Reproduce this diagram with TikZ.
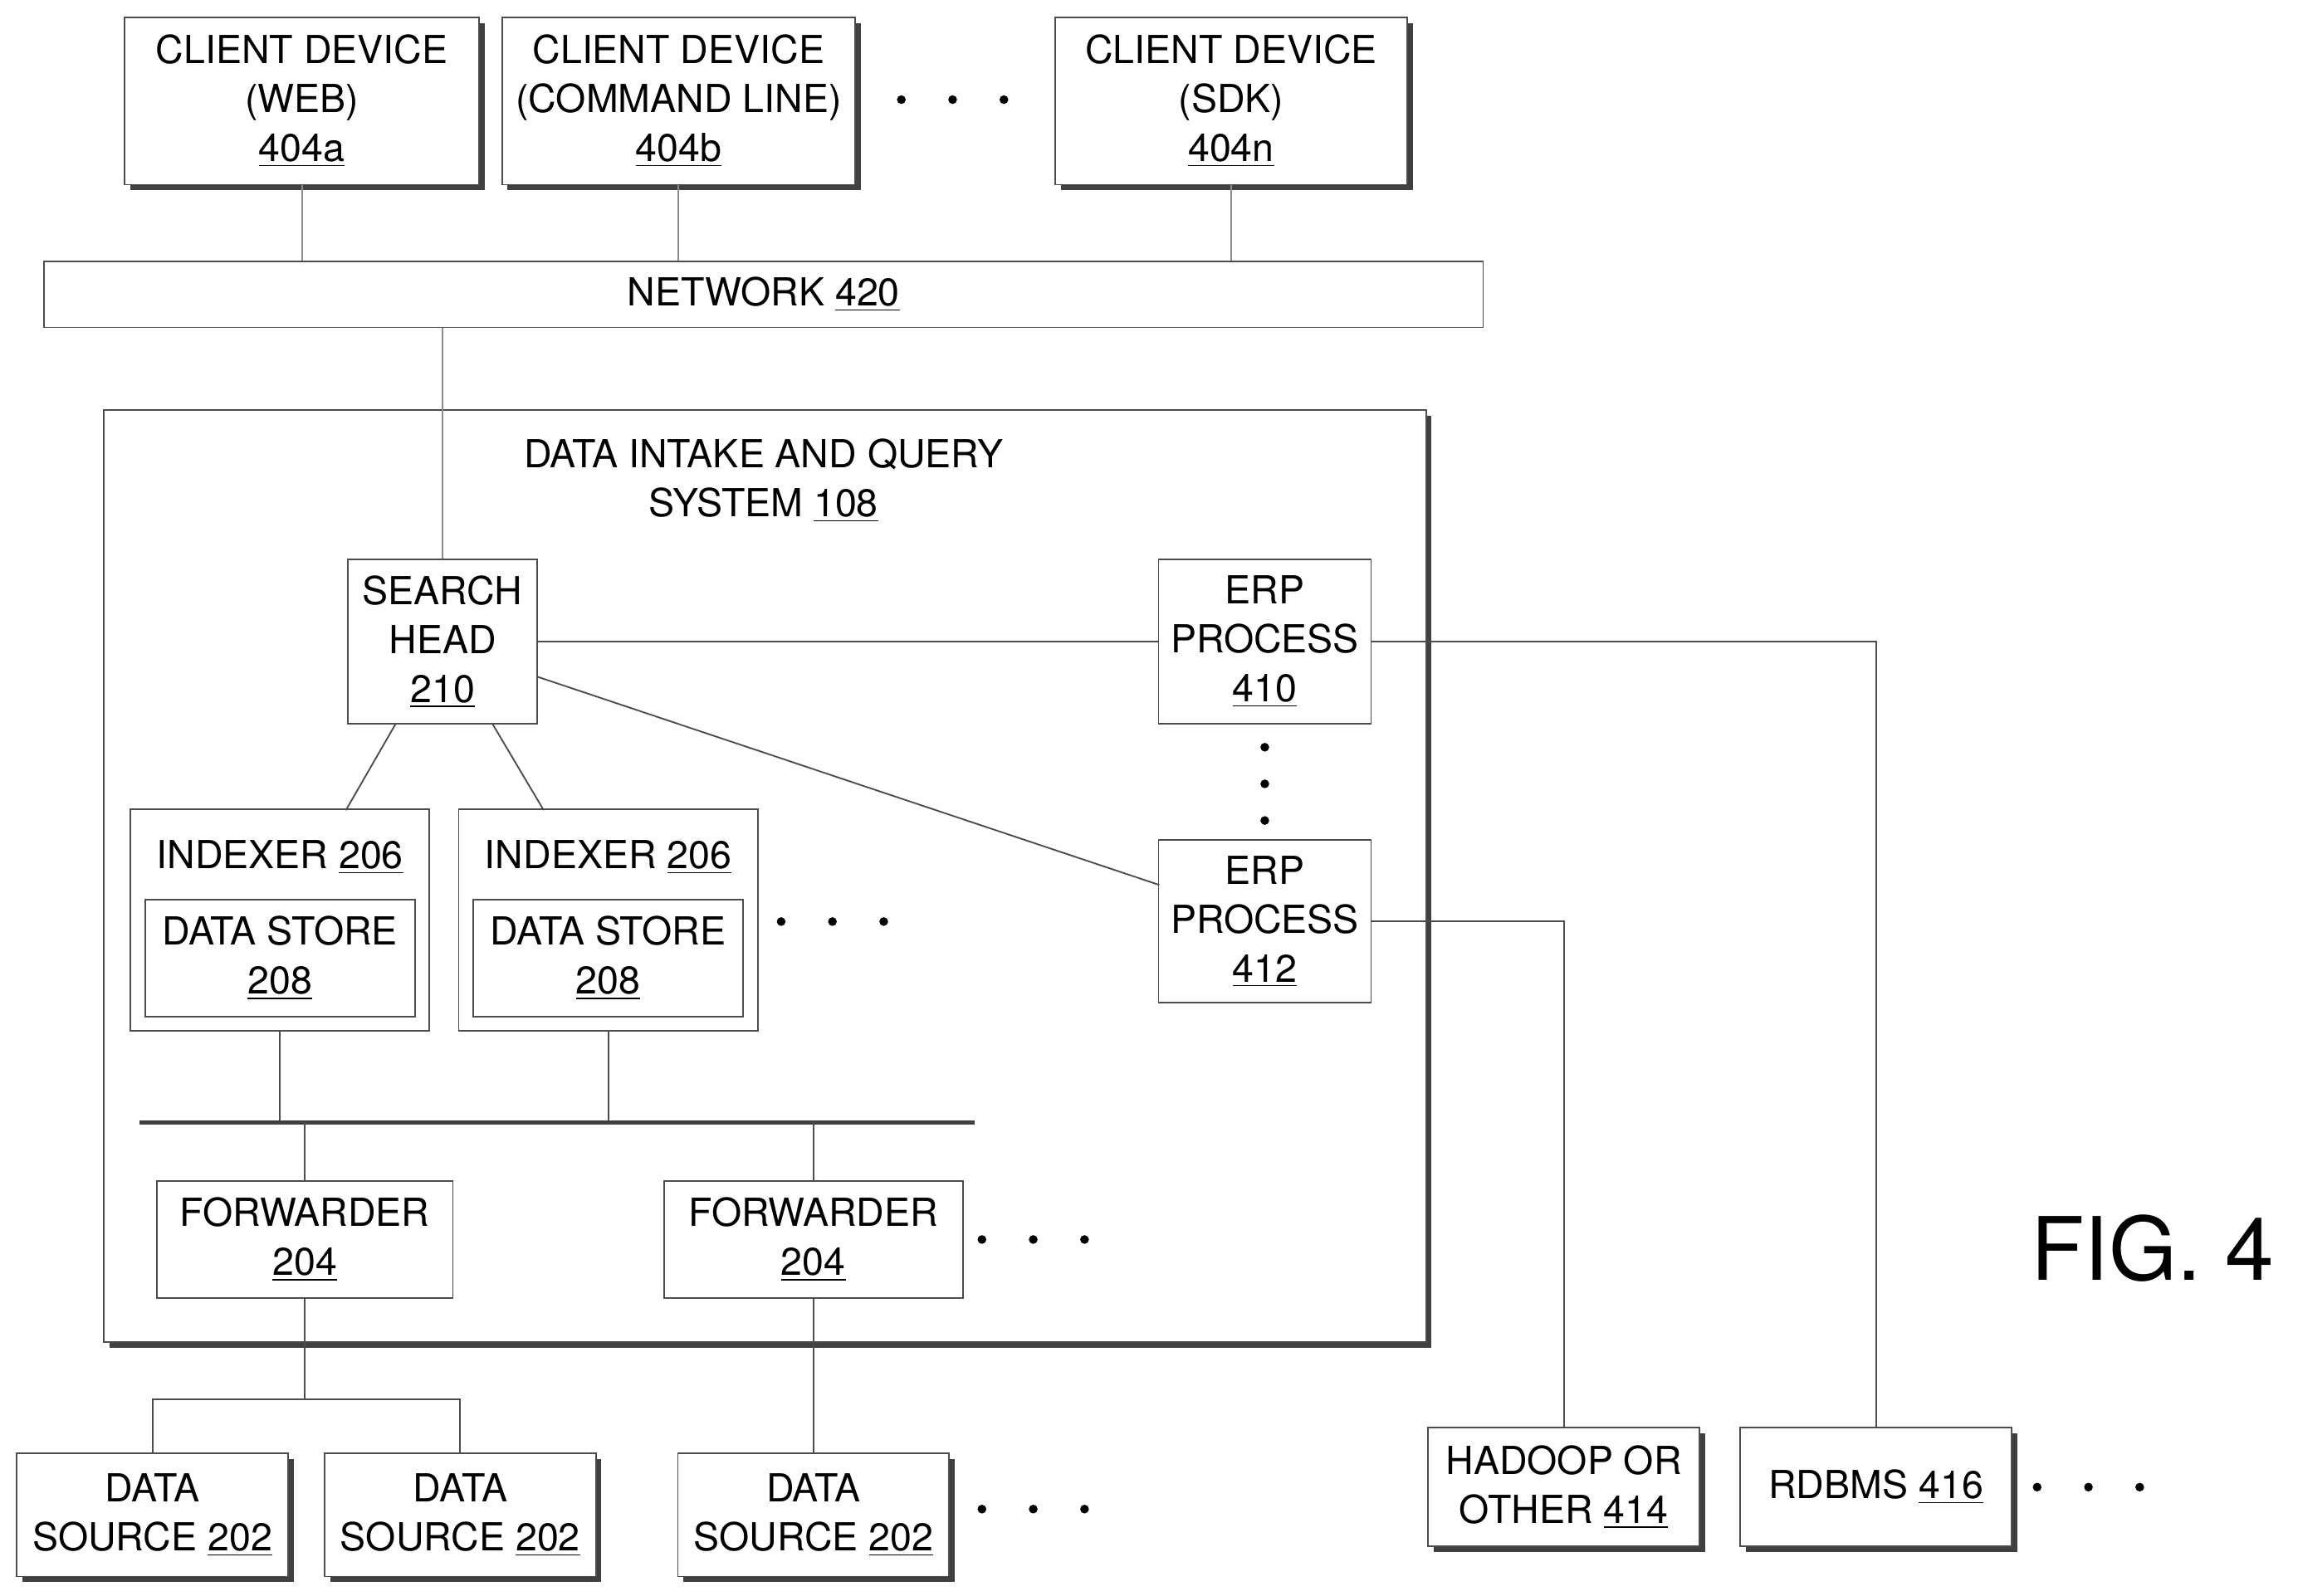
\documentclass[tikz,border=0pt]{standalone}
\usepackage{fontspec}
\setmainfont{TeX Gyre Heros}
\usetikzlibrary{shadows}
\begin{document}
\begin{tikzpicture}[x=0.02cm,y=-0.02cm,
    font=\fontsize{15}{19}\selectfont,
    box/.style={draw=black!70, line width=0.6pt, fill=white, align=center, inner sep=0pt,
        drop shadow={shadow xshift=2.2pt, shadow yshift=-2.2pt, fill=black!75, opacity=1}},
    plain/.style={draw=black!70, line width=0.6pt, fill=white, align=center, inner sep=0pt},
    wire/.style={black!70, line width=0.6pt}]
    \newcommand\hdots[2]{\foreach \d in {-35,0,35} \fill (#1+\d,#2) circle (1.7pt);}
    \useasboundingbox (0,0) rectangle (1568,1089);

    % clients and network
    \node[box, minimum width=242*0.02cm, minimum height=114*0.02cm] (web) at (206,69) {CLIENT DEVICE\\(WEB)\\\underline{404a}};
    \node[box, minimum width=241*0.02cm, minimum height=114*0.02cm] (cmd) at (463,69) {CLIENT DEVICE\\(COMMAND LINE)\\\underline{404b}};
    \hdots{650}{68}
    \node[box, minimum width=240*0.02cm, minimum height=114*0.02cm] (sdk) at (840,69) {CLIENT DEVICE\\(SDK)\\\underline{404n}};
    \node[plain, minimum width=982*0.02cm, minimum height=45*0.02cm] (net) at (521,201) {NETWORK \underline{420}};
    \foreach \c in {web,cmd,sdk}
        \draw[wire, black!45] (\c.south) -- (\c.south |- net.north);

    % system
    \node[box, minimum width=902*0.02cm, minimum height=636*0.02cm] (sys) at (522,598) {};
    \node[align=center] at (521,328) {DATA INTAKE AND QUERY\\SYSTEM \underline{108}};
    \draw[wire, black!45] (net.south -| 302,0) -- (302,382);

    \node[plain, minimum width=129*0.02cm, minimum height=112*0.02cm] (head) at (302,438) {SEARCH\\HEAD\\\underline{210}};
    \node[plain, minimum width=145*0.02cm, minimum height=112*0.02cm] (erpa) at (863,438) {ERP\\PROCESS\\\underline{410}};
    \node[plain, minimum width=145*0.02cm, minimum height=111*0.02cm] (erpb) at (863,629) {ERP\\PROCESS\\\underline{412}};
    \foreach \y in {510,535,560} \fill (863,\y) circle (1.7pt);
    \draw[wire] (head.east) -- (erpa.west);
    \draw[wire] (367,462) -- (791,604);

    % indexers
    \foreach \n/\x in {ia/191,ib/415} {
        \node[plain, minimum width=204*0.02cm, minimum height=151*0.02cm] (\n) at (\x,628) {};
        \node at (\x,585) {INDEXER \underline{206}};
        \node[plain, minimum width=184*0.02cm, minimum height=80*0.02cm] (\n s) at (\x,654) {DATA STORE\\\underline{208}};
        \draw[wire] (\n.south) -- (\x,766);
    }
    \hdots{568}{629}
    \draw[wire] (270,494) -- (236,553);
    \draw[wire] (336,494) -- (371,553);
    \draw[line width=1.6pt, black!75] (95,766) -- (665,766);

    % forwarders
    \node[plain, minimum width=202*0.02cm, minimum height=80*0.02cm] (fa) at (208,846) {FORWARDER\\\underline{204}};
    \node[plain, minimum width=204*0.02cm, minimum height=80*0.02cm] (fb) at (555,846) {FORWARDER\\\underline{204}};
    \hdots{705}{846}
    \draw[wire] (208,766) -- (fa.north);
    \draw[wire] (555,766) -- (fb.north);

    % data sources
    \node[box, minimum width=185*0.02cm, minimum height=84*0.02cm] (dsa) at (104,1034) {DATA\\SOURCE \underline{202}};
    \node[box, minimum width=185*0.02cm, minimum height=84*0.02cm] (dsb) at (314,1034) {DATA\\SOURCE \underline{202}};
    \node[box, minimum width=185*0.02cm, minimum height=84*0.02cm] (dsc) at (555,1034) {DATA\\SOURCE \underline{202}};
    \hdots{705}{1030}
    \draw[wire] (fa.south) -- (208,955);
    \draw[wire] (dsa.north) -- (104,955) -- (314,955) -- (dsb.north);
    \draw[wire] (fb.south) -- (dsc.north);

    % external stores
    \node[box, minimum width=185*0.02cm, minimum height=81*0.02cm] (hdp) at (1067,1015) {HADOOP OR\\OTHER \underline{414}};
    \node[box, minimum width=185*0.02cm, minimum height=81*0.02cm] (rdb) at (1280,1015) {RDBMS \underline{416}};
    \hdots{1425}{1015}
    \draw[wire] (erpa.east) -- (1280,438) -- (rdb.north);
    \draw[wire] (erpb.east) -- (1067,629) -- (hdp.north);

    \node[font=\fontsize{34}{34}\selectfont, anchor=east] at (1558,852) {FIG. 4};
\end{tikzpicture}
\end{document}
